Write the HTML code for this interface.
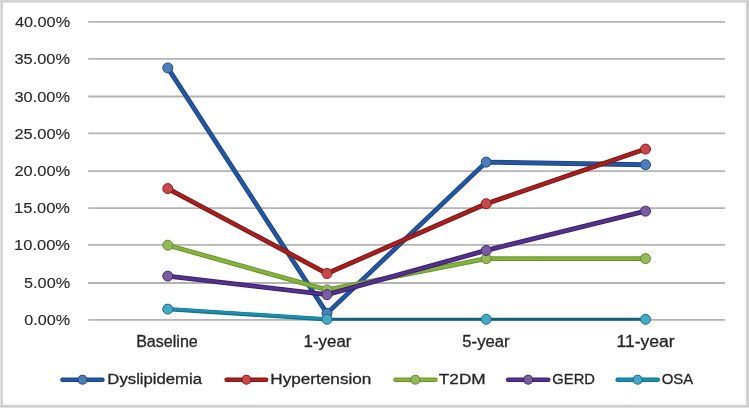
<!DOCTYPE html><html><head><meta charset="utf-8"><style>html,body{margin:0;padding:0;background:#fff;}svg{display:block;will-change:transform;}</style></head><body>
<svg width="749" height="408" viewBox="0 0 749 408">
<rect x="0" y="0" width="749" height="408" fill="#ffffff"/>
<g shape-rendering="crispEdges"><rect x="0" y="0" width="749" height="1" fill="#d8d8d8"/><rect x="0" y="1" width="749" height="1" fill="#cbcbcb"/><rect x="0" y="2" width="749" height="1" fill="#e6e6e6"/><rect x="0" y="3" width="749" height="1" fill="#f8f8f8"/><rect x="0" y="404" width="749" height="1" fill="#f2f2f2"/><rect x="0" y="405" width="749" height="1" fill="#d4d4d4"/><rect x="0" y="406" width="749" height="1" fill="#c6c6c6"/><rect x="0" y="407" width="749" height="1" fill="#e2e2e2"/><rect x="0" y="2" width="1" height="403" fill="#e6e6e6"/><rect x="1" y="2" width="1" height="403" fill="#c9c9c9"/><rect x="2" y="2" width="1" height="403" fill="#dedede"/><rect x="3" y="2" width="1" height="403" fill="#f6f6f6"/><rect x="745" y="2" width="1" height="403" fill="#f4f4f4"/><rect x="746" y="2" width="1" height="403" fill="#dadada"/><rect x="747" y="2" width="1" height="403" fill="#c8c8c8"/><rect x="748" y="2" width="1" height="403" fill="#d8d8d8"/></g>
<line x1="88.2" y1="319.90" x2="725.0" y2="319.90" stroke="#b4b4b4" stroke-width="1.8"/>
<line x1="88.2" y1="283.00" x2="725.0" y2="283.00" stroke="#b4b4b4" stroke-width="1.8"/>
<line x1="88.2" y1="244.90" x2="725.0" y2="244.90" stroke="#b4b4b4" stroke-width="1.8"/>
<line x1="88.2" y1="208.10" x2="725.0" y2="208.10" stroke="#b4b4b4" stroke-width="1.8"/>
<line x1="88.2" y1="171.20" x2="725.0" y2="171.20" stroke="#b4b4b4" stroke-width="1.8"/>
<line x1="88.2" y1="133.40" x2="725.0" y2="133.40" stroke="#b4b4b4" stroke-width="1.8"/>
<line x1="88.2" y1="96.50" x2="725.0" y2="96.50" stroke="#b4b4b4" stroke-width="1.8"/>
<line x1="88.2" y1="58.80" x2="725.0" y2="58.80" stroke="#b4b4b4" stroke-width="1.8"/>
<line x1="88.2" y1="21.80" x2="725.0" y2="21.80" stroke="#b4b4b4" stroke-width="1.8"/>
<text x="24.18" y="325.00" font-family='"Liberation Sans", sans-serif' font-size="15.5" fill="#262626" stroke="#262626" stroke-width="0.1" textLength="45.89" lengthAdjust="spacingAndGlyphs">0.00%</text>
<text x="24.07" y="288.10" font-family='"Liberation Sans", sans-serif' font-size="15.5" fill="#262626" stroke="#262626" stroke-width="0.1" textLength="46.10" lengthAdjust="spacingAndGlyphs">5.00%</text>
<text x="14.10" y="250.00" font-family='"Liberation Sans", sans-serif' font-size="15.5" fill="#262626" stroke="#262626" stroke-width="0.1" textLength="55.89" lengthAdjust="spacingAndGlyphs">10.00%</text>
<text x="14.10" y="213.20" font-family='"Liberation Sans", sans-serif' font-size="15.5" fill="#262626" stroke="#262626" stroke-width="0.1" textLength="55.89" lengthAdjust="spacingAndGlyphs">15.00%</text>
<text x="14.46" y="176.30" font-family='"Liberation Sans", sans-serif' font-size="15.5" fill="#262626" stroke="#262626" stroke-width="0.1" textLength="55.70" lengthAdjust="spacingAndGlyphs">20.00%</text>
<text x="14.46" y="138.50" font-family='"Liberation Sans", sans-serif' font-size="15.5" fill="#262626" stroke="#262626" stroke-width="0.1" textLength="55.70" lengthAdjust="spacingAndGlyphs">25.00%</text>
<text x="14.52" y="101.60" font-family='"Liberation Sans", sans-serif' font-size="15.5" fill="#262626" stroke="#262626" stroke-width="0.1" textLength="55.48" lengthAdjust="spacingAndGlyphs">30.00%</text>
<text x="14.52" y="63.90" font-family='"Liberation Sans", sans-serif' font-size="15.5" fill="#262626" stroke="#262626" stroke-width="0.1" textLength="55.48" lengthAdjust="spacingAndGlyphs">35.00%</text>
<text x="14.93" y="26.90" font-family='"Liberation Sans", sans-serif' font-size="15.5" fill="#262626" stroke="#262626" stroke-width="0.1" textLength="55.24" lengthAdjust="spacingAndGlyphs">40.00%</text>
<text x="136.15" y="346.50" font-family='"Liberation Sans", sans-serif' font-size="16" fill="#262626" stroke="#262626" stroke-width="0.3" textLength="61.64" lengthAdjust="spacingAndGlyphs">Baseline</text>
<text x="303.58" y="346.50" font-family='"Liberation Sans", sans-serif' font-size="16" fill="#262626" stroke="#262626" stroke-width="0.3" textLength="47.84" lengthAdjust="spacingAndGlyphs">1-year</text>
<text x="462.34" y="346.50" font-family='"Liberation Sans", sans-serif' font-size="16" fill="#262626" stroke="#262626" stroke-width="0.3" textLength="47.27" lengthAdjust="spacingAndGlyphs">5-year</text>
<text x="616.56" y="346.50" font-family='"Liberation Sans", sans-serif' font-size="16" fill="#262626" stroke="#262626" stroke-width="0.3" textLength="58.08" lengthAdjust="spacingAndGlyphs">11-year</text>
<polyline points="167.8,67.89 327.0,313.37 486.2,162.13 645.5,164.74" fill="none" stroke="#1c4686" stroke-width="4.8" stroke-linejoin="round" stroke-linecap="round"/>
<polyline points="167.8,67.89 327.0,313.37 486.2,162.13 645.5,164.74" fill="none" stroke="#2556a0" stroke-width="2.8" stroke-linejoin="round" stroke-linecap="round"/>
<circle cx="167.8" cy="67.89" r="5" fill="#4a7ebb" stroke="#23487f" stroke-width="1"/>
<circle cx="327.0" cy="313.37" r="5" fill="#4a7ebb" stroke="#23487f" stroke-width="1"/>
<circle cx="486.2" cy="162.13" r="5" fill="#4a7ebb" stroke="#23487f" stroke-width="1"/>
<circle cx="645.5" cy="164.74" r="5" fill="#4a7ebb" stroke="#23487f" stroke-width="1"/>
<polyline points="167.8,188.58 327.0,273.51 486.2,203.78 645.5,149.09" fill="none" stroke="#821515" stroke-width="4.8" stroke-linejoin="round" stroke-linecap="round"/>
<polyline points="167.8,188.58 327.0,273.51 486.2,203.78 645.5,149.09" fill="none" stroke="#a62020" stroke-width="2.8" stroke-linejoin="round" stroke-linecap="round"/>
<circle cx="167.8" cy="188.58" r="5" fill="#c8484a" stroke="#8a1c1c" stroke-width="1"/>
<circle cx="327.0" cy="273.51" r="5" fill="#c8484a" stroke="#8a1c1c" stroke-width="1"/>
<circle cx="486.2" cy="203.78" r="5" fill="#c8484a" stroke="#8a1c1c" stroke-width="1"/>
<circle cx="645.5" cy="149.09" r="5" fill="#c8484a" stroke="#8a1c1c" stroke-width="1"/>
<polyline points="167.8,245.20 327.0,289.90 486.2,258.61 645.5,258.61" fill="none" stroke="#6a9430" stroke-width="4.8" stroke-linejoin="round" stroke-linecap="round"/>
<polyline points="167.8,245.20 327.0,289.90 486.2,258.61 645.5,258.61" fill="none" stroke="#86b43a" stroke-width="2.8" stroke-linejoin="round" stroke-linecap="round"/>
<circle cx="167.8" cy="245.20" r="5" fill="#93bb55" stroke="#66883a" stroke-width="1"/>
<circle cx="327.0" cy="289.90" r="5" fill="#93bb55" stroke="#66883a" stroke-width="1"/>
<circle cx="486.2" cy="258.61" r="5" fill="#93bb55" stroke="#66883a" stroke-width="1"/>
<circle cx="645.5" cy="258.61" r="5" fill="#93bb55" stroke="#66883a" stroke-width="1"/>
<polyline points="167.8,276.12 327.0,294.67 486.2,250.41 645.5,211.15" fill="none" stroke="#3d1f6e" stroke-width="4.8" stroke-linejoin="round" stroke-linecap="round"/>
<polyline points="167.8,276.12 327.0,294.67 486.2,250.41 645.5,211.15" fill="none" stroke="#53318c" stroke-width="2.8" stroke-linejoin="round" stroke-linecap="round"/>
<circle cx="167.8" cy="276.12" r="5" fill="#7a5ca3" stroke="#44286f" stroke-width="1"/>
<circle cx="327.0" cy="294.67" r="5" fill="#7a5ca3" stroke="#44286f" stroke-width="1"/>
<circle cx="486.2" cy="250.41" r="5" fill="#7a5ca3" stroke="#44286f" stroke-width="1"/>
<circle cx="645.5" cy="211.15" r="5" fill="#7a5ca3" stroke="#44286f" stroke-width="1"/>
<line x1="167.8" y1="309.12" x2="327.0" y2="319.33" stroke="#12708c" stroke-width="4.2" stroke-linecap="round"/>
<line x1="167.8" y1="308.72" x2="327.0" y2="318.93" stroke="#1d8fae" stroke-width="2.6" stroke-linecap="round"/>
<line x1="327.0" y1="319.3" x2="645.5" y2="319.3" stroke="#10607c" stroke-width="3"/>
<circle cx="167.8" cy="309.12" r="5" fill="#45a8c4" stroke="#1a6f88" stroke-width="1"/>
<circle cx="327.0" cy="319.33" r="5" fill="#45a8c4" stroke="#1a6f88" stroke-width="1"/>
<circle cx="486.2" cy="319.33" r="5" fill="#45a8c4" stroke="#1a6f88" stroke-width="1"/>
<circle cx="645.5" cy="319.33" r="5" fill="#45a8c4" stroke="#1a6f88" stroke-width="1"/>
<line x1="62.400000000000006" y1="379.7" x2="102.5" y2="379.7" stroke="#1c4686" stroke-width="4.4" stroke-linecap="round"/>
<line x1="62.400000000000006" y1="379.7" x2="102.5" y2="379.7" stroke="#2556a0" stroke-width="2.4" stroke-linecap="round"/>
<circle cx="82.5" cy="379.7" r="4.5" fill="#4a7ebb" stroke="#23487f" stroke-width="1.1"/>
<text x="107.39" y="384.30" font-family='"Liberation Sans", sans-serif' font-size="15.5" fill="#262626" stroke="#262626" stroke-width="0.3" textLength="94.65" lengthAdjust="spacingAndGlyphs">Dyslipidemia</text>
<line x1="226.6" y1="379.7" x2="266.2" y2="379.7" stroke="#821515" stroke-width="4.4" stroke-linecap="round"/>
<line x1="226.6" y1="379.7" x2="266.2" y2="379.7" stroke="#a62020" stroke-width="2.4" stroke-linecap="round"/>
<circle cx="246.4" cy="379.7" r="4.5" fill="#c8484a" stroke="#8a1c1c" stroke-width="1.1"/>
<text x="270.28" y="384.30" font-family='"Liberation Sans", sans-serif' font-size="15.5" fill="#262626" stroke="#262626" stroke-width="0.3" textLength="101.09" lengthAdjust="spacingAndGlyphs">Hypertension</text>
<line x1="395.4" y1="379.7" x2="435.5" y2="379.7" stroke="#6a9430" stroke-width="4.4" stroke-linecap="round"/>
<line x1="395.4" y1="379.7" x2="435.5" y2="379.7" stroke="#86b43a" stroke-width="2.4" stroke-linecap="round"/>
<circle cx="415.4" cy="379.7" r="4.5" fill="#93bb55" stroke="#66883a" stroke-width="1.1"/>
<text x="438.84" y="384.30" font-family='"Liberation Sans", sans-serif' font-size="15.5" fill="#262626" stroke="#262626" stroke-width="0.3" textLength="46.84" lengthAdjust="spacingAndGlyphs">T2DM</text>
<line x1="508.09999999999997" y1="379.7" x2="548.3" y2="379.7" stroke="#3d1f6e" stroke-width="4.4" stroke-linecap="round"/>
<line x1="508.09999999999997" y1="379.7" x2="548.3" y2="379.7" stroke="#53318c" stroke-width="2.4" stroke-linecap="round"/>
<circle cx="528.2" cy="379.7" r="4.5" fill="#7a5ca3" stroke="#44286f" stroke-width="1.1"/>
<text x="552.31" y="384.30" font-family='"Liberation Sans", sans-serif' font-size="15.5" fill="#262626" stroke="#262626" stroke-width="0.3" textLength="42.76" lengthAdjust="spacingAndGlyphs">GERD</text>
<line x1="617.6" y1="379.7" x2="657.8" y2="379.7" stroke="#12708c" stroke-width="4.4" stroke-linecap="round"/>
<line x1="617.6" y1="379.7" x2="657.8" y2="379.7" stroke="#1d8fae" stroke-width="2.4" stroke-linecap="round"/>
<circle cx="637.7" cy="379.7" r="4.5" fill="#45a8c4" stroke="#1a6f88" stroke-width="1.1"/>
<text x="661.66" y="384.30" font-family='"Liberation Sans", sans-serif' font-size="15.5" fill="#262626" stroke="#262626" stroke-width="0.3" textLength="31.58" lengthAdjust="spacingAndGlyphs">OSA</text>
</svg></body></html>
